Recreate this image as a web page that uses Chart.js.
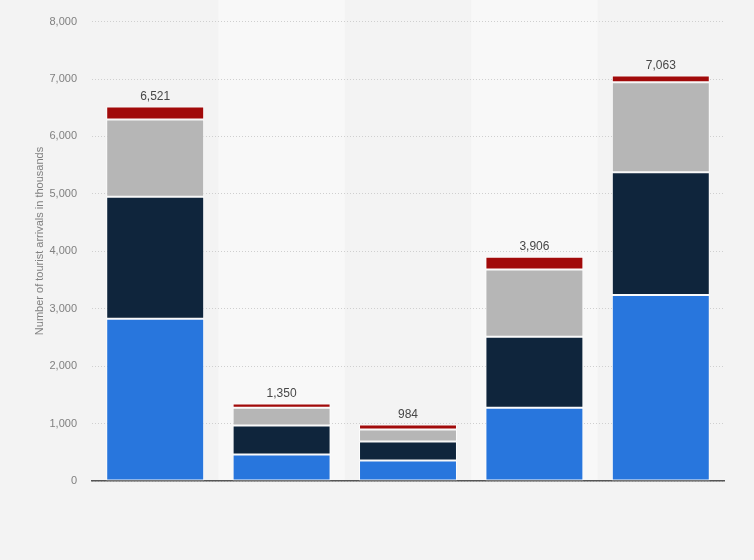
<!DOCTYPE html>
<html>
<head>
<meta charset="utf-8">
<script src="https://cdn.jsdelivr.net/npm/chart.js@4.4.0/dist/chart.umd.min.js"></script>
<style>
  html, body { margin: 0; padding: 0; background: #f3f3f3; }
  #wrap { width: 754px; height: 560px; position: relative; }
</style>
</head>
<body>
<div id="wrap"><canvas id="c" width="754" height="560"></canvas></div>
<script>
const categories = ['A', 'B', 'C', 'D', 'E'];
const seriesBlue = [2825, 463, 359, 1274, 3241];
const seriesNavy = [2123, 504, 330, 1238, 2136];
const seriesGray = [1349, 307, 208, 1169, 1567];
const seriesRed  = [224, 76, 87, 225, 119];
const totals = [6521, 1350, 984, 3906, 7063];
const yTicks = [0, 1000, 2000, 3000, 4000, 5000, 6000, 7000, 8000];
const yTitle = 'Number of tourist arrivals in thousands';

const bandPlugin = {
  id: 'bands',
  beforeDraw(chart) {
    const { ctx, chartArea, scales } = chart;
    ctx.save();
    ctx.fillStyle = '#f3f3f3';
    ctx.fillRect(0, 0, chart.width, chart.height);
    const x = scales.x;
    const step = (chartArea.right - chartArea.left) / categories.length;
    ctx.fillStyle = '#f8f8f8';
    categories.forEach((c, i) => {
      if (i % 2 === 1) {
        const cx = x.getPixelForValue(i);
        ctx.fillRect(cx - step / 2, 0, step, chartArea.bottom);
      }
    });
    ctx.restore();
  }
};

const totalPlugin = {
  id: 'totals',
  afterDatasetsDraw(chart) {
    const { ctx, scales } = chart;
    ctx.save();
    ctx.font = '12px "Liberation Sans", Arial, sans-serif';
    ctx.fillStyle = '#474747';
    ctx.textAlign = 'center';
    ctx.textBaseline = 'bottom';
    totals.forEach((t, i) => {
      const px = scales.x.getPixelForValue(i);
      const py = scales.y.getPixelForValue(t);
      ctx.fillText(t.toLocaleString('en-US'), px, py - 4);
    });
    // y axis title
    ctx.font = '11px "Liberation Sans", Arial, sans-serif';
    ctx.fillStyle = '#808080';
    ctx.textBaseline = 'middle';
    ctx.translate(40, 241);
    ctx.rotate(-Math.PI / 2);
    ctx.fillText(yTitle, 0, 0);
    ctx.restore();
  }
};

const mk = (label, data, color) => ({
  label, data,
  backgroundColor: color,
  borderColor: 'rgba(255,255,255,0.75)',
  borderWidth: 1,
  borderSkipped: false,
  categoryPercentage: 1,
  barPercentage: 0.775
});

new Chart(document.getElementById('c'), {
  type: 'bar',
  data: {
    labels: categories,
    datasets: [
      mk('Blue', seriesBlue, '#2876dd'),
      mk('Navy', seriesNavy, '#0f253c'),
      mk('Gray', seriesGray, '#b6b6b6'),
      mk('Red', seriesRed, '#a10a0a')
    ]
  },
  options: {
    responsive: false,
    animation: false,
    devicePixelRatio: 1,
    layout: { padding: { left: 30, right: 30, top: 20, bottom: 79 } },
    plugins: {
      legend: { display: false },
      tooltip: { enabled: false }
    },
    scales: {
      x: {
        stacked: true,
        grid: { display: false, drawTicks: false },
        ticks: { display: false },
        border: { display: true, color: '#555', width: 1.5 }
      },
      y: {
        stacked: true,
        min: 0,
        max: 8000,
        afterFit(scale) { scale.width = 62; },
        afterBuildTicks(scale) { scale.ticks = yTicks.map(v => ({ value: v })); },
        ticks: {
          padding: 15,
          color: '#808080',
          font: { family: '"Liberation Sans", Arial, sans-serif', size: 11 },
          callback: v => v.toLocaleString('en-US')
        },
        grid: { color: '#cfcfcf', drawTicks: false, lineWidth: 1 },
        border: { display: false, dash: [1, 2] },
        title: { display: false }
      }
    }
  },
  plugins: [bandPlugin, totalPlugin]
});
</script>
</body>
</html>
